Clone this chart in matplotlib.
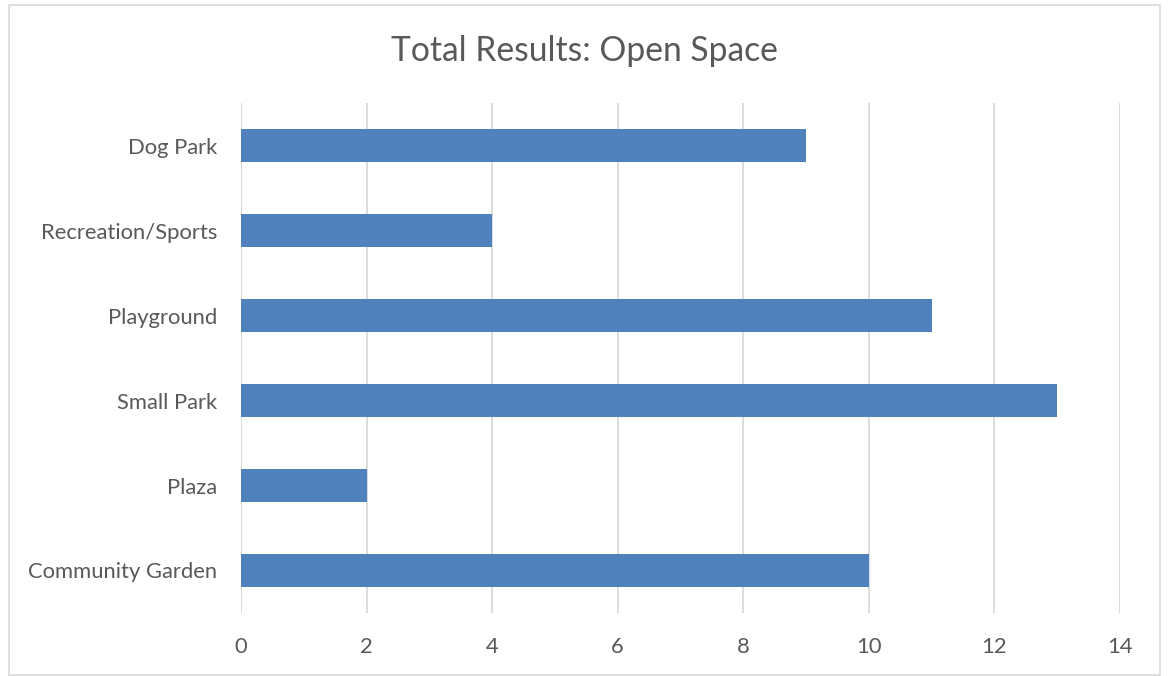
import matplotlib.pyplot as plt
from matplotlib.patches import Rectangle

categorias = ["Community Garden", "Plaza", "Small Park", "Playground", "Recreation/Sports", "Dog Park"]
valores = [10, 2, 13, 11, 4, 9]
ticks_x = [0, 2, 4, 6, 8, 10, 12, 14]

plt.rcParams['font.family'] = ['Lato', 'DejaVu Sans']
gris = "#595959"

fig = plt.figure(figsize=(11.68, 6.76), dpi=100)
ax = fig.add_axes([0.2063, 0.0932, 0.7526, 0.7544])

ax.barh(range(len(categorias)), valores, height=0.39, color="#4F81BD", zorder=3)
ax.set_xlim(0, 14)
ax.set_ylim(-0.5, len(categorias) - 0.5)
ax.set_xticks(ticks_x)
ax.set_yticks(range(len(categorias)))
ax.set_yticklabels(categorias)
ax.grid(axis="x", color="#D9D9D9", linewidth=1.3, zorder=0)
for s in ax.spines.values():
    s.set_visible(False)
ax.tick_params(axis="both", length=0, labelsize=15.8, colors=gris)
ax.tick_params(axis="x", pad=17)
ax.tick_params(axis="y", pad=17)

fig.text(0.5, 0.925, "Total Results: Open Space", ha="center", va="center",
         fontsize=24.2, color=gris)

fig.patches.append(Rectangle((0.008, 0.002), 0.985, 0.991, transform=fig.transFigure,
                             fill=False, edgecolor="#D9D9D9", linewidth=1.2))

fig.savefig("out.png", dpi=100)
